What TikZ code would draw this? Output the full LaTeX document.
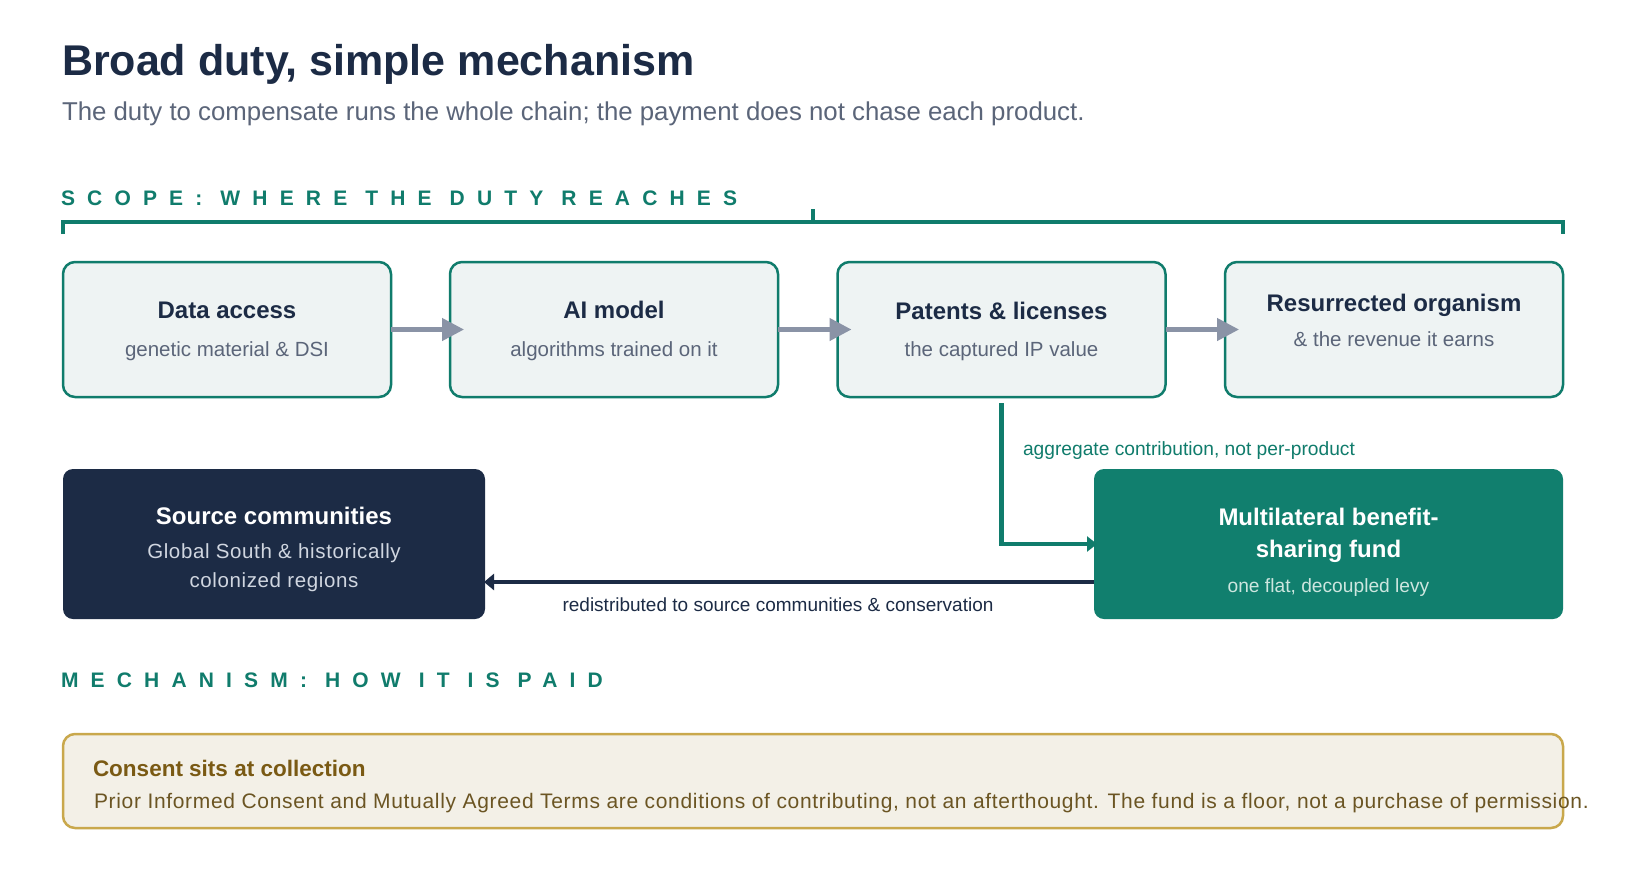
\documentclass[tikz,border=0pt]{standalone}
\usepackage{fontspec}
\setmainfont{Liberation Sans}
\usetikzlibrary{arrows.meta}
\definecolor{navy}{HTML}{1C2B45}
\definecolor{slate}{HTML}{5B6579}
\definecolor{teal}{HTML}{107C6C}
\definecolor{fundfill}{HTML}{117F6E}
\definecolor{boxfill}{HTML}{EEF3F3}
\definecolor{arrowgray}{HTML}{8A93A6}
\definecolor{srcsub}{HTML}{D0D6E0}
\definecolor{fundsub}{HTML}{CDE6DF}
\definecolor{cfill}{HTML}{F3F0E7}
\definecolor{cborder}{HTML}{C9A84C}
\definecolor{ctitle}{HTML}{7A5A14}
\definecolor{cbody}{HTML}{6B5523}
\newcommand{\fsz}[1]{\fontsize{#1}{#1}\selectfont}
\tikzset{
  txt/.style={inner sep=0pt, outer sep=0pt},
  chainbox/.style={draw=teal, fill=boxfill, line width=2.5pt, rounded corners=12pt,
    minimum height=135pt, outer sep=0pt, inner sep=0pt},
  boxtitle/.style={txt, anchor=base, text=navy, font=\fsz{24}\bfseries},
  boxsub/.style={txt, anchor=base, text=slate, font=\fsz{20.5}},
  chainarrow/.style={draw=arrowgray, line width=4.5pt, -{Triangle[length=22pt,width=22pt]}},
  sectionlabel/.style={txt, anchor=base west, text=teal, font=\fsz{21}\bfseries\addfontfeature{LetterSpace=58}},
}
\begin{document}
\begin{tikzpicture}[x=1pt,y=-1pt]
\path[use as bounding box, fill=white] (0,0) rectangle (1625,868);

% header
\node[txt, anchor=base west, text=navy, font=\fsz{43}\bfseries] (title) at (62,75) {Broad duty, simple mechanism};
\node[txt, anchor=base west, text=slate, font=\fsz{25.8}] (subtitle) at (62,120) {The duty to compensate runs the whole chain; the payment does not chase each product.};

% scope label and bracket
\node[sectionlabel] (scope) at (61,205) {SCOPE: WHERE THE DUTY REACHES};
\draw[teal, line width=4pt] (63,234) -- (63,222) -- (1563,222) -- (1563,234);
\draw[teal, line width=4pt] (813,222) -- (813,209);

% chain boxes
\node[chainbox, minimum width=328pt] (b1) at (227,329.5) {};
\node[chainbox, minimum width=328pt] (b2) at (614,329.5) {};
\node[chainbox, minimum width=328pt] (b3) at (1001.5,329.5) {};
\node[chainbox, minimum width=338pt] (b4) at (1394,329.5) {};

\node[boxtitle] (b1t) at (227,318) {Data access};
\node[boxsub] (b1s) at (227,356.5) {genetic material \& DSI};
\node[boxtitle] (b2t) at (614,318) {AI model};
\node[boxsub] (b2s) at (614,356.5) {algorithms trained on it};
\node[boxtitle] (b3t) at (1001.5,319) {Patents \& licenses};
\node[boxsub] (b3s) at (1001.5,356.5) {the captured IP value};
\node[boxtitle] (b4t) at (1394,311) {Resurrected organism};
\node[boxsub] (b4s) at (1394,346.5) {\& the revenue it earns};

\draw[chainarrow] (b1.east) -- ([xshift=14pt]b2.west);
\draw[chainarrow] (b2.east) -- ([xshift=14pt]b3.west);
\draw[chainarrow] (b3.east) -- ([xshift=14pt]b4.west);

% source communities and fund
\node[fill=navy, rounded corners=10pt, minimum width=422pt, minimum height=150pt, outer sep=0pt, inner sep=0pt] (src) at (274,544) {};
\node[txt, anchor=base, text=white, font=\fsz{24}\bfseries] (srct) at (274,524) {Source communities};
\node[txt, anchor=base, text=srcsub, font=\fsz{20.5}\addfontfeature{LetterSpace=3}] (srcs1) at (274,558) {Global South \& historically};
\node[txt, anchor=base, text=srcsub, font=\fsz{20.5}\addfontfeature{LetterSpace=3}] (srcs2) at (274,587) {colonized regions};

\node[fill=fundfill, rounded corners=10pt, minimum width=469pt, minimum height=150pt, outer sep=0pt, inner sep=0pt] (fund) at (1328.5,544) {};
\node[txt, anchor=base, text=white, font=\fsz{24}\bfseries] (fundt1) at (1328.5,525) {Multilateral benefit-};
\node[txt, anchor=base, text=white, font=\fsz{24}\bfseries] (fundt2) at (1328.5,557) {sharing fund};
\node[txt, anchor=base, text=fundsub, font=\fsz{19.2}] (funds) at (1328.5,592) {one flat, decoupled levy};

% connectors
\draw[teal, line width=4.5pt, -{Triangle[length=10pt,width=15pt]}] ([yshift=-6pt]b3.south) |- ([xshift=3pt]fund.west);
\node[txt, anchor=base west, text=teal, font=\fsz{19.2}] (agg) at (1023,455) {aggregate contribution, not per-product};

\draw[navy, line width=4.5pt, -{Triangle[length=10pt,width=16pt]}] ([yshift=-38pt]fund.west) -- ([yshift=-38pt,xshift=-1pt]src.east);
\node[txt, anchor=base, text=navy, font=\fsz{19}] (redis) at (778,611.5) {redistributed to source communities \& conservation};

% mechanism
\node[sectionlabel] (mech) at (61,687) {MECHANISM: HOW IT IS PAID};

\node[draw=cborder, fill=cfill, line width=2.5pt, rounded corners=12pt, minimum width=1500pt, minimum height=94pt, outer sep=0pt, inner sep=0pt] (consent) at (813,781) {};
\node[txt, anchor=base west, text=ctitle, font=\fsz{22.5}\bfseries] (ctitle) at (93,776) {Consent sits at collection};
\node[txt, anchor=base west, text=cbody, font=\fsz{21}\addfontfeature{LetterSpace=3.2}] (cbody) at (94,808) {Prior Informed Consent and Mutually Agreed Terms are conditions of contributing, not an afterthought. The fund is a floor, not a purchase of permission.};
\end{tikzpicture}
\end{document}
